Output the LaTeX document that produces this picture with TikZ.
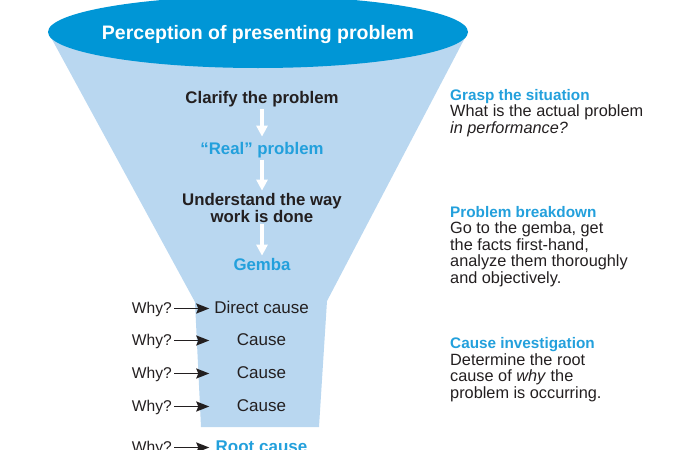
\documentclass[tikz,border=0pt]{standalone}
\usepackage{fontspec}
\setmainfont{Liberation Sans}
\usetikzlibrary{arrows.meta}
\definecolor{funnelblue}{HTML}{B9D7F0}
\definecolor{capblue}{HTML}{0096D6}
\definecolor{textblue}{HTML}{23A0DC}
\definecolor{darktext}{HTML}{231F20}
\begin{document}
\begin{tikzpicture}[x=1pt, y=-1pt,
  step text/.style={font=\fontsize{16.8}{17}\selectfont\bfseries, text=darktext, inner sep=2pt, align=center, anchor=base},
  key text/.style={step text, text=textblue},
  why text/.style={font=\fontsize{15.6}{16}\selectfont, text=darktext, anchor=base east, inner sep=2pt, text height=12pt, text depth=3pt},
  cause text/.style={font=\fontsize{17}{17}\selectfont, text=darktext, anchor=base, inner xsep=0pt, inner ysep=2pt, minimum width=104pt, text height=12pt, text depth=3pt},
  note text/.style={font=\fontsize{16.3}{16.5}\selectfont, text=darktext, anchor=base west, align=left, inner sep=0pt},
  down arrow/.style={draw=white, line width=3.6pt, -{Triangle[length=11pt,width=11pt]}},
  why arrow/.style={draw=darktext, line width=1.8pt, -{Stealth[length=13pt,width=10pt,inset=2pt]}}]
\useasboundingbox (0,0) rectangle (675,450);
\clip (0,0) rectangle (675,450);
% funnel and its rim
\fill[funnelblue] (48,32) -- (468,32) -- (327,301) -- (319,427) -- (201,427) -- (195,302) -- cycle;
\fill[capblue] (258,32) ellipse [x radius=210, y radius=36];
\node[font=\fontsize{19.5}{20}\selectfont\bfseries, text=white, anchor=base] (perception) at (258,39) {Perception of presenting problem};
% steps inside the funnel (base = last line)
\node[step text] (clarify) at (262,103) {Clarify the problem};
\node[key text] (real) at (262,154) {``Real'' problem};
\node[step text] (understand) at (262,222) {Understand the way\\work is done};
\node[key text] (gemba) at (262,270) {Gemba};
\draw[down arrow, shorten >=3pt] (clarify) -- (real);
\draw[down arrow] (real) -- (understand);
\draw[down arrow] (understand) -- (gemba);
% the whys
\node[why text] (why1) at (174,313) {Why?};
\node[why text] (why2) at (174,345) {Why?};
\node[why text] (why3) at (174,378) {Why?};
\node[why text] (why4) at (174,411) {Why?};
\node[why text] (why5) at (174,452) {Why?};
\node[cause text] (direct) at (261.5,313) {Direct cause};
\node[cause text] (cause1) at (261.5,345) {Cause};
\node[cause text] (cause2) at (261.5,378) {Cause};
\node[cause text] (cause3) at (261.5,411) {Cause};
\node[cause text, text=textblue, font=\fontsize{17}{17}\selectfont\bfseries] (root) at (261.5,452) {Root cause};
\draw[why arrow] (why1) -- (direct);
\draw[why arrow] (why2) -- (cause1);
\draw[why arrow] (why3) -- (cause2);
\draw[why arrow] (why4) -- (cause3);
\draw[why arrow] (why5) -- (root);
% notes on the right (base = last line)
\node[note text] (grasp) at (450,133) {\textcolor{textblue}{\fontsize{15.3}{16.5}\selectfont\bfseries Grasp the situation}\\What is the actual problem\\\textit{in performance?}};
\node[note text] (breakdown) at (450,283) {\textcolor{textblue}{\fontsize{15.3}{16.5}\selectfont\bfseries Problem breakdown}\\Go to the gemba, get\\the facts first-hand,\\analyze them thoroughly\\and objectively.};
\node[note text] (investigation) at (450,398) {\textcolor{textblue}{\fontsize{15.3}{16.5}\selectfont\bfseries Cause investigation}\\Determine the root\\cause of \textit{why} the\\problem is occurring.};
\end{tikzpicture}
\end{document}
